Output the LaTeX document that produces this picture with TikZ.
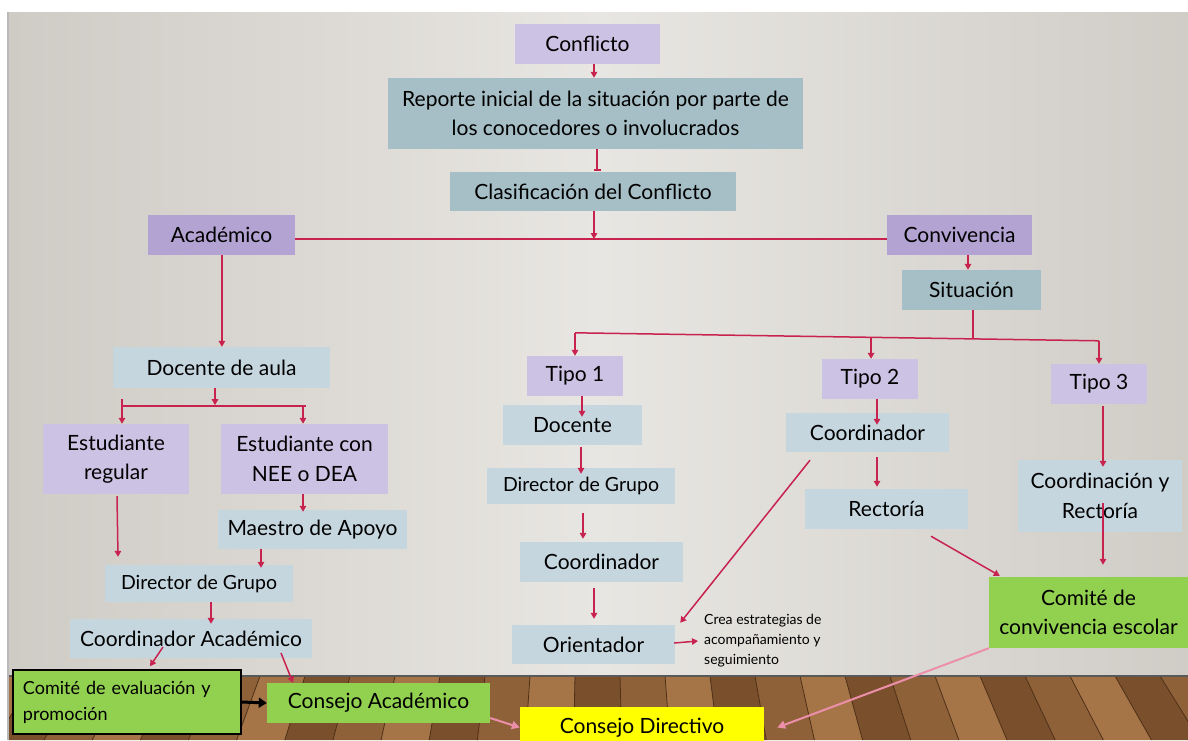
\documentclass[tikz,border=0pt]{standalone}
\usepackage{fontspec}
\setmainfont{Lato}
\usetikzlibrary{arrows.meta,calc}
\definecolor{lav}{HTML}{CCC2E3}
\definecolor{purp}{HTML}{B3A3D3}
\definecolor{tealbox}{HTML}{A6BFC6}
\definecolor{lblue}{HTML}{C6D6DF}
\definecolor{grn}{HTML}{92D050}
\definecolor{yel}{HTML}{FFFF00}
\definecolor{arrc}{HTML}{C8234F}
\definecolor{pinkarr}{HTML}{EC8FAB}
\definecolor{bgL}{HTML}{CFCBC5}
\definecolor{bgM}{HTML}{E8E6E2}
\definecolor{bgR}{HTML}{D0CDC7}
\definecolor{floorA}{HTML}{8E6138}
\definecolor{floorB}{HTML}{A57548}
\definecolor{floorC}{HTML}{7A4F2B}
\definecolor{floorLine}{HTML}{4E3019}
\tikzset{
  box/.style={rectangle, inner sep=0pt, align=center, text=black,
    font=\fontsize{21}{29.5}\selectfont},
  bx/.style 2 args={box, minimum width=#1pt, minimum height=#2pt},
  smallfont/.style={font=\fontsize{19.5}{24}\selectfont},
  conn/.style={draw=arrc, line width=1.5pt, -{Triangle[length=6pt,width=6.5pt]}},
  plain/.style={draw=arrc, line width=1.5pt},
  pinkc/.style={draw=pinkarr, line width=2pt, -{Triangle[length=8pt,width=8pt]}},
  blackc/.style={draw=black, line width=3pt, -{Triangle[length=8pt,width=10pt]}},
}
\begin{document}
\begin{tikzpicture}[x=1pt,y=-1pt]
\useasboundingbox (0,0) rectangle (1188,740);
% background
\fill[white] (0,0) rectangle (1188,740);
\shade[left color=bgL, right color=bgR, middle color=bgM] (8,12) rectangle (1188,676);
\begin{scope}
\clip (8,676) rectangle (1188,740);
\fill[floorA] (8,676) rectangle (1188,740);
\foreach \x [count=\i] in {-100,-55,...,1300} {
  \pgfmathsetmacro{\xb}{\x+0.07*(\x-594)}
  \pgfmathsetmacro{\xc}{\x+45}
  \pgfmathsetmacro{\xd}{\xc+0.07*(\xc-594)}
  \pgfmathtruncatemacro{\m}{mod(\i,3)}
  \ifnum\m=0 \def\col{floorB}\else\ifnum\m=1 \def\col{floorC}\else\def\col{floorA}\fi\fi
  \fill[\col] (\x,676) -- (\xc,676) -- (\xd,740) -- (\xb,740) -- cycle;
  \draw[floorLine, line width=0.8pt] (\x,676) -- (\xb,740);
}
\end{scope}
\draw[black!65, line width=2pt] (8,676) -- (1188,676);
\draw[gray!55, line width=1.5pt] (8,12) -- (8,740);

% nodes - top
\node[bx={145}{40}, fill=lav] (conflicto) at (587.5,44) {Conflicto};
\node[bx={415}{71}, fill=tealbox] (reporte) at (595.5,113.5) {Reporte inicial de la situación por parte de\\los conocedores o involucrados};
\node[bx={286}{39}, fill=tealbox] (clasif) at (593,191.5) {Clasificación del Conflicto};
\node[bx={147}{40}, fill=purp] (academico) at (221.5,235) {Académico};
\node[bx={145}{40}, fill=purp] (convivencia) at (959.5,235) {Convivencia};
\node[bx={139}{40}, fill=tealbox] (situacion) at (971.5,290) {Situación};
% left branch
\node[bx={217}{41}, fill=lblue] (docenteaula) at (221.5,367.5) {Docente de aula};
\node[bx={146}{70}, fill=lav] (estreg) at (116,459) {Estudiante\\regular};
\node[bx={167}{70}, fill=lav] (nee) at (304.5,459) {Estudiante con\\NEE o DEA};
\node[bx={189}{39}, fill=lblue] (maestro) at (312.5,529.5) {Maestro de Apoyo};
\node[bx={188}{37}, fill=lblue, smallfont] (directorL) at (199,583.5) {Director de Grupo};
\node[bx={242}{39}, fill=lblue] (coordacad) at (191,638.5) {Coordinador Académico};
\node[rectangle, draw=black, line width=1.5pt, fill=grn, minimum width=228pt, minimum height=64pt,
      text width=208pt, inner sep=0pt, align=left, font=\fontsize{18}{26}\selectfont] (comiteval) at (127,702) {Comité de evaluación y\\promoción};
\node[bx={223}{40}, fill=grn] (consejoacad) at (378.5,703) {Consejo Académico};
\node[bx={244}{41}, fill=yel] (consejodir) at (642,727.5) {Consejo Directivo};
% middle branch
\node[bx={96}{40}, fill=lav] (tipo1) at (575,376) {Tipo 1};
\node[bx={139}{40}, fill=lblue] (docente) at (572.5,425) {Docente};
\node[bx={188}{36}, fill=lblue, smallfont] (directorM) at (581,486) {Director de Grupo};
\node[bx={163}{40}, fill=lblue] (coordM) at (601.5,562) {Coordinador};
\node[bx={163}{39}, fill=lblue] (orient) at (593.5,644.5) {Orientador};
\node[anchor=west, inner sep=0pt, align=left, font=\fontsize{14}{20}\selectfont] (crea) at (704,641) {Crea estrategias de\\acompañamiento y\\seguimiento};
% right branches
\node[bx={96}{40}, fill=lav] (tipo2) at (870,379) {Tipo 2};
\node[bx={163}{39}, fill=lblue] (coordR) at (867.5,432.5) {Coordinador};
\node[bx={163}{40}, fill=lblue] (rect) at (886.5,509) {Rectoría};
\node[bx={96}{40}, fill=lav] (tipo3) at (1099,384) {Tipo 3};
\node[bx={164}{72}, fill=lblue] (cyr) at (1100,496) {Coordinación y\\Rectoría};
\node[bx={199}{71}, fill=grn] (comiteconv) at (1088.5,612.5) {Comité de\\convivencia escolar};

% connectors - top
\draw[conn] ($(conflicto.south)+(6.5,0)$) -- ($(conflicto.south |- reporte.north)+(6.5,0)$);
\draw[draw=arrc, line width=1.5pt, -{Bar[width=7pt]}] ($(reporte.south)+(1.5,0)$) -- ($(reporte.south |- clasif.north)+(1.5,-1)$);
\coordinate (hl) at ([yshift=-4pt]academico.east);
\coordinate (hr) at ([yshift=-4pt]convivencia.west);
\draw[plain] (hl) -- (hr);
\draw[conn] ($(clasif.south)+(1,0)$) -- ($(clasif.south |- hl)+(1,0)$);
\draw[conn] ($(academico.south)+(0.4,0)$) -- ($(docenteaula.north)+(0.4,0)$);
\draw[conn] ($(convivencia.south)+(8.5,0)$) -- ($(convivencia.south |- situacion.north)+(8.5,0)$);
% tipo junction
\coordinate (j1) at ($(tipo1.north)+(0,-23)$);
\coordinate (j3) at ($(tipo3.north)+(0,-23)$);
\coordinate (j2) at ($(j1)!0.565!(j3)$);
\coordinate (js) at ($(j1)!0.7595!(j3)$);
\draw[plain] (j1) -- (j3);
\draw[plain] (situacion.south -| js) -- (js);
\draw[conn] (j1) -- (tipo1.north);
\draw[conn] (j2) -- (j2 |- tipo2.north);
\draw[conn] (j3) -- (tipo3.north);
% left branch
\coordinate (bl) at ($(docenteaula.south)+(-100.5,17.9)$);
\coordinate (br) at ($(docenteaula.south)+(84.5,17.9)$);
\coordinate (blx) at ($(bl)+(1,-7)$);
\coordinate (brx) at ($(br)+(-3,0)$);
\draw[conn] ($(docenteaula.south)+(-6.5,0)$) -- ($(docenteaula.south)+(-6.5,17)$);
\draw[plain] (bl) -- (br);
\draw[conn] (blx) -- (blx |- estreg.north);
\draw[conn] (brx) -- (brx |- nee.north);
\draw[conn] ($(estreg.south)+(1,2)$) -- ($(estreg.south |- directorL.north)+(2,-8)$);
\draw[conn] ($(nee.south)+(-1.5,0)$) -- ($(nee.south |- maestro.north)+(-1.5,2)$);
\draw[conn] ($(maestro.south)+(-51.5,0)$) -- ($(maestro.south |- directorL.north)+(-51.5,3)$);
\draw[conn] ($(directorL.south)+(12,0)$) -- ($(directorL.south |- coordacad.north)+(12,5)$);
\draw[conn] ($(coordacad.center)+(-28,8.5)$) -- ($(comiteval.north)+(23,-3)$);
\draw[conn] ($(coordacad.center)+(90,14.5)$) -- ($(consejoacad.north)+(-85.5,0)$);
\draw[blackc] (comiteval.east) -- (consejoacad.west);
\draw[pinkc] ($(consejoacad.east)+(0,15)$) -- (consejodir.west);
\draw[pinkc] (comiteconv.south west) -- ($(consejodir.east)+(13,0)$);
% middle branch
\draw[conn] ($(tipo1.south)+(7,0)$) -- ($(tipo1.south |- docente.north)+(7,12)$);
\draw[conn] ($(docente.south)+(8.5,2)$) -- ($(docente.south |- directorM.north)+(8.5,6)$);
\draw[conn] ($(directorM.south)+(2,9)$) -- ($(directorM.south |- coordM.north)+(2,-3)$);
\draw[conn] ($(coordM.south)+(-7.5,6)$) -- ($(coordM.south |- orient.north)+(-7.5,-6)$);
\draw[conn] ($(coordR.south)+(-57.5,8)$) -- ($(orient.north east)+(5,-2)$);
\draw[conn] ($(orient.east)+(-1,-1.5)$) -- ($(crea.west)+(-6,0)$);
% right branches
\draw[conn] ($(tipo2.south)+(7,0)$) -- ($(tipo2.south |- coordR.north)+(7,12)$);
\draw[conn] ($(coordR.south)+(9.5,5)$) -- ($(coordR.south |- rect.north)+(9.5,-2)$);
\draw[conn] ($(rect.south)+(44.5,7)$) -- ($(comiteconv.north west)+(11,-1)$);
\draw[conn] ($(tipo3.south)+(4,2)$) -- ($(tipo3.south |- cyr.north)+(4,7)$);
\draw[conn] ($(cyr.center)+(3,7)$) -- ($(comiteconv.north)+(14.5,-12)$);
\end{tikzpicture}
\end{document}
